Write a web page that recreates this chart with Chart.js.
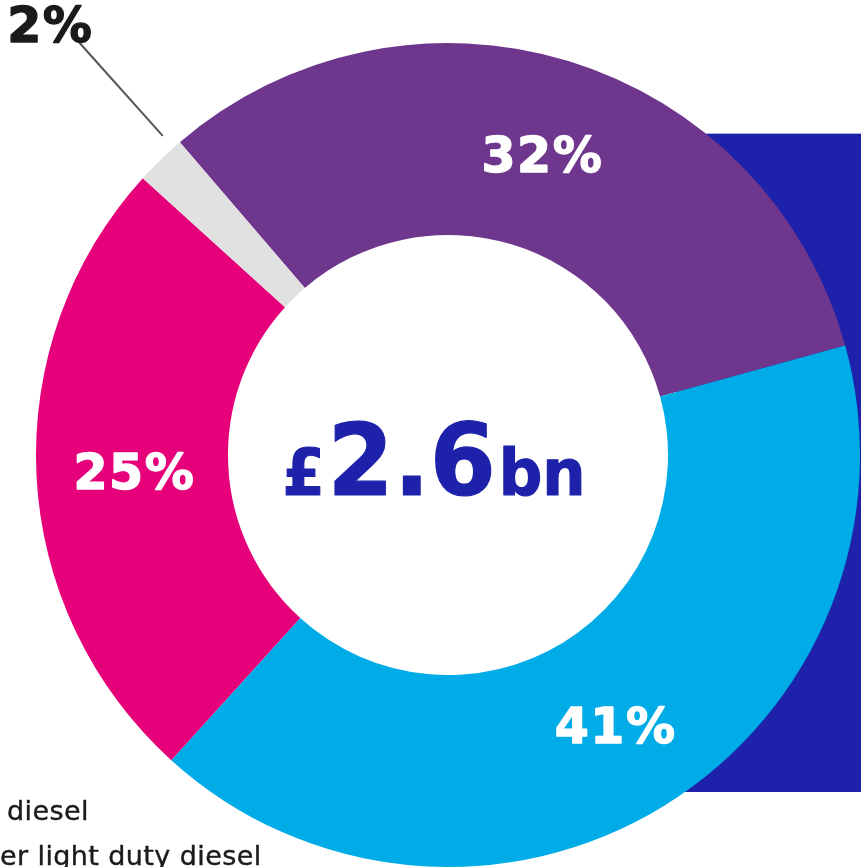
<!DOCTYPE html>
<html><head><meta charset="utf-8">
<script src="https://cdn.jsdelivr.net/npm/chart.js@4.4.1/dist/chart.umd.min.js"></script>
<style>html,body{margin:0;padding:0;background:#fff;overflow:hidden}#wrap{width:861px;height:867px;position:relative}</style>
</head><body><div id="wrap"><canvas id="c" width="861" height="867"></canvas></div>
<script>
const categories = ['Segment A', 'Segment B', 'Segment C', 'Segment D'];
const shares = [32, 41, 25, 2];
const sliceColors = ['#6E378D', '#00ACE7', '#E6007A', '#E1E1E1'];
const totalParts = ['£', '2.6', 'bn'];
const legendFragments = ['diesel', 'er light duty diesel'];
const navy = '#1E22AA';

const backdrop = {
  id: 'backdrop',
  beforeDatasetsDraw(chart) {
    const el = chart.getDatasetMeta(0).data[0];
    const ctx = chart.ctx;
    const cx = el.x, cy = el.y, R = el.outerRadius, r = el.innerRadius;
    ctx.save();
    ctx.fillStyle = navy;
    const left = cx + r + 8;
    const top = cy - R * 0.78;
    const bottom = cy + R * 0.818;
    ctx.fillRect(left, top, chart.width - left, bottom - top);
    ctx.restore();
  }
};

function boldText(ctx, txt, x, y, color, w) {
  ctx.fillStyle = color;
  ctx.strokeStyle = color;
  ctx.lineWidth = w;
  ctx.lineJoin = 'round';
  ctx.strokeText(txt, x, y);
  ctx.fillText(txt, x, y);
}

const labelsPlugin = {
  id: 'labelsPlugin',
  afterDatasetsDraw(chart) {
    const ctx = chart.ctx;
    const meta = chart.getDatasetMeta(0);
    meta.data.forEach((el, i) => {
      const txt = shares[i] + '%';
      ctx.save();
      ctx.font = 'bold 49px "DejaVu Sans"';
      ctx.letterSpacing = '1.5px';
      if (shares[i] >= 5) {
        const p = el.tooltipPosition();
        ctx.textAlign = 'center';
        ctx.textBaseline = 'alphabetic';
        boldText(ctx, txt, p.x + 2, p.y + 19, '#ffffff', 1.4);
      } else {
        const a = (el.startAngle + el.endAngle) / 2 + 0.042;
        const R = el.outerRadius;
        const x1 = el.x + Math.cos(a) * (R + 16), y1 = el.y + Math.sin(a) * (R + 16);
        const x2 = el.x + Math.cos(a) * (R + 141), y2 = el.y + Math.sin(a) * (R + 141);
        ctx.strokeStyle = '#555555';
        ctx.lineWidth = 2;
        ctx.beginPath(); ctx.moveTo(x1, y1); ctx.lineTo(x2, y2); ctx.stroke();
        ctx.textAlign = 'right';
        ctx.textBaseline = 'alphabetic';
        boldText(ctx, txt, x2 + 14, y2 - 1, '#1a1a1a', 1.4);
      }
      ctx.restore();
    });

    // centre total
    const el = meta.data[0];
    const cx = el.x, cy = el.y;
    ctx.save();
    ctx.textBaseline = 'alphabetic';
    ctx.textAlign = 'left';
    const fonts = ['bold 64px "DejaVu Sans"', 'bold 100px "DejaVu Sans"', 'bold 64px "DejaVu Sans"'];
    const sx = 0.95;
    let widths = totalParts.map((t, i) => { ctx.font = fonts[i]; return ctx.measureText(t).width; });
    const gap = 3;
    const total = (widths.reduce((a, b) => a + b, 0) + gap * 2) * sx;
    ctx.translate(cx - 14 - total / 2, cy + 40);
    ctx.scale(sx, 1);
    let x = 0;
    totalParts.forEach((t, i) => { ctx.font = fonts[i]; boldText(ctx, t, x, 0, navy, 1.2); x += widths[i] + gap; });
    ctx.restore();

    // legend fragments (cut off at the left edge)
    ctx.save();
    ctx.font = '27px "DejaVu Sans"';
    ctx.letterSpacing = '0.4px';
    ctx.textAlign = 'left';
    ctx.textBaseline = 'alphabetic';
    boldText(ctx, legendFragments[0], 7, 820, '#1a1a1a', 0.4);
    boldText(ctx, legendFragments[1], 0, 865, '#1a1a1a', 0.4);
    ctx.restore();
  }
};

new Chart(document.getElementById('c'), {
  type: 'doughnut',
  data: {
    labels: categories,
    datasets: [{ data: shares, backgroundColor: sliceColors, borderWidth: 0 }]
  },
  options: {
    responsive: false,
    animation: false,
    rotation: -40.6,
    cutout: '53.4%',
    layout: { padding: { left: 36, right: 1, top: 43, bottom: 0 } },
    plugins: { legend: { display: false }, tooltip: { enabled: false } }
  },
  plugins: [backdrop, labelsPlugin]
});
</script></body></html>
